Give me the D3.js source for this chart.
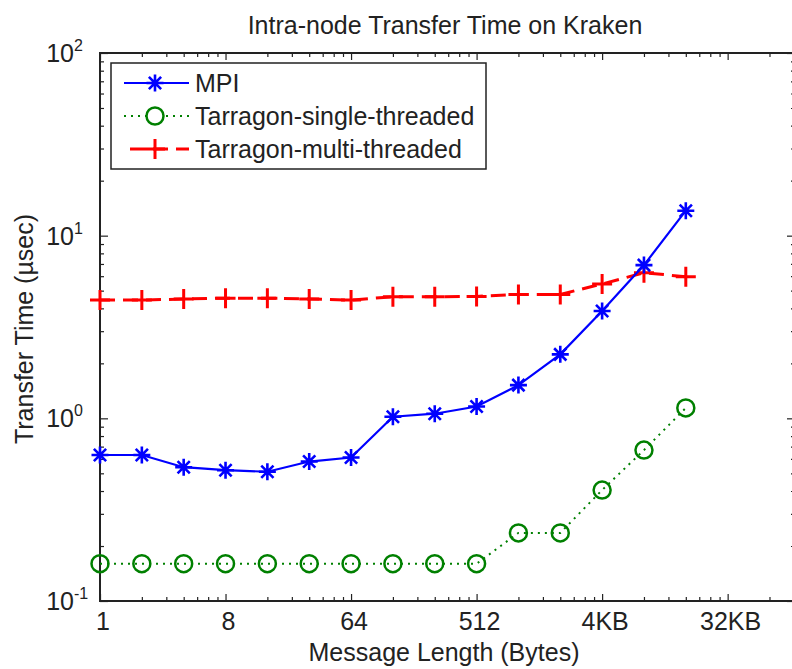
<!DOCTYPE html>
<html><head><meta charset="utf-8">
<script src="https://cdn.jsdelivr.net/npm/d3@7"></script>
<style>
html,body{margin:0;padding:0;background:#fff;}
text{font-family:"Liberation Sans",Arial,sans-serif;fill:#222;}
</style></head>
<body><svg id="c" width="792" height="669"></svg>
<script>
// ---- data ----
const sizes = [1,2,4,8,16,32,64,128,256,512,1024,2048,4096,8192,16384];
const mpi = [0.63,0.63,0.54,0.52,0.51,0.58,0.61,1.02,1.06,1.16,1.52,2.24,3.87,6.9,13.7];
const tarragonSingle = [0.16,0.16,0.16,0.16,0.16,0.16,0.16,0.16,0.16,0.16,0.236,0.236,0.405,0.67,1.14];
const tarragonMulti = [4.44,4.44,4.5,4.55,4.55,4.5,4.44,4.63,4.63,4.65,4.77,4.77,5.44,6.27,5.96];
const xTickValues = [1,8,64,512,4096,32768];
const xTickLabels = ["1","8","64","512","4KB","32KB"];
const yTickValues = [0.1,1,10,100];
const yTickExps = ["-1","0","1","2"];
const seriesNames = ["MPI","Tarragon-single-threaded","Tarragon-multi-threaded"];
const titleText = "Intra-node Transfer Time on Kraken";
const xLabelText = "Message Length (Bytes)";
const yLabelText = "Transfer Time (\u00B5sec)";

// ---- layout ----
const L=100, R=795, T=53, B=601;
const svg = d3.select("#c");
const x = d3.scaleLog().base(2).domain([1,100000]).range([L,R]);
const y = d3.scaleLog().domain([0.1,100]).range([B,T]);

const xMinor=[];
for(let n=0;n<6;n++){for(let k=2;k<=7;k++){const v=k*Math.pow(8,n); if(v<100000) xMinor.push(v);}}
const yMinor=[];
for(let e=-1;e<2;e++){for(let k=2;k<=9;k++) yMinor.push(k*Math.pow(10,e));}

function styleAxis(g){ g.select(".domain").remove(); g.selectAll("line").attr("stroke","#222").attr("stroke-width",1.2); g.selectAll("text").remove(); }
svg.append("g").attr("transform",`translate(0,${B})`).call(d3.axisBottom(x).tickValues(xTickValues).tickSize(-7)).call(styleAxis);
svg.append("g").attr("transform",`translate(0,${B})`).call(d3.axisBottom(x).tickValues(xMinor).tickSize(-4)).call(styleAxis);
svg.append("g").attr("transform",`translate(0,${T})`).call(d3.axisTop(x).tickValues(xTickValues).tickSize(-7)).call(styleAxis);
svg.append("g").attr("transform",`translate(0,${T})`).call(d3.axisTop(x).tickValues(xMinor).tickSize(-4)).call(styleAxis);
svg.append("g").attr("transform",`translate(${L},0)`).call(d3.axisLeft(y).tickValues(yTickValues).tickSize(-8)).call(styleAxis);
svg.append("g").attr("transform",`translate(${L},0)`).call(d3.axisLeft(y).tickValues(yMinor).tickSize(-4)).call(styleAxis);
svg.append("g").attr("transform",`translate(${R},0)`).call(d3.axisRight(y).tickValues(yTickValues).tickSize(-8)).call(styleAxis);
svg.append("g").attr("transform",`translate(${R},0)`).call(d3.axisRight(y).tickValues(yMinor).tickSize(-4)).call(styleAxis);

svg.append("rect").attr("x",L).attr("y",T).attr("width",R-L).attr("height",B-T)
  .attr("fill","none").attr("stroke","#222").attr("stroke-width",2);

// tick labels
svg.selectAll(".xl").data(xTickValues).enter().append("text")
  .attr("x",d=>x(d)+3).attr("y",630).attr("text-anchor","middle").attr("font-size",25)
  .text((d,i)=>xTickLabels[i]);
const yl = svg.selectAll(".yl").data(yTickValues).enter().append("text")
  .attr("x",74).attr("y",d=>y(d)+9).attr("text-anchor","end").attr("font-size",25);
yl.append("tspan").text("10");
yl.append("tspan").attr("dy",-11).attr("font-size",16).attr("x",74).attr("text-anchor","start").text((d,i)=>yTickExps[i]);

// titles
svg.append("text").attr("x",445).attr("y",34).attr("text-anchor","middle").attr("font-size",25).text(titleText);
svg.append("text").attr("x",444).attr("y",661).attr("text-anchor","middle").attr("font-size",25).text(xLabelText);
svg.append("text").attr("transform","translate(33,329) rotate(-90)").attr("text-anchor","middle").attr("font-size",25).text(yLabelText);

// ---- series ----
const line = vals => d3.line().x((d,i)=>x(sizes[i])).y(d=>y(d))(vals);
function asterisk(g,cx,cy,s,color){
  const p=`M${cx-s},${cy}L${cx+s},${cy}M${cx},${cy-s}L${cx},${cy+s}M${cx-s*0.72},${cy-s*0.72}L${cx+s*0.72},${cy+s*0.72}M${cx-s*0.72},${cy+s*0.72}L${cx+s*0.72},${cy-s*0.72}`;
  g.append("path").attr("d",p).attr("stroke",color).attr("stroke-width",2.6).attr("fill","none");
}
function plus(g,cx,cy,s,color){
  g.append("path").attr("d",`M${cx-s},${cy}L${cx+s},${cy}M${cx},${cy-s}L${cx},${cy+s}`).attr("stroke",color).attr("stroke-width",3).attr("fill","none");
}
function circ(g,cx,cy,r,color){
  g.append("circle").attr("cx",cx).attr("cy",cy).attr("r",r).attr("fill","none").attr("stroke",color).attr("stroke-width",2.5);
}
const blue="#0000ff", green="#008000", red="#ff0000";
const gS = svg.append("g");
gS.append("path").attr("d",line(tarragonSingle)).attr("fill","none").attr("stroke",green).attr("stroke-width",2).attr("stroke-dasharray","2,5");
tarragonSingle.forEach((v,i)=>circ(gS,x(sizes[i]),y(v),8.5,green));
const gM = svg.append("g");
gM.append("path").attr("d",line(tarragonMulti)).attr("fill","none").attr("stroke",red).attr("stroke-width",3).attr("stroke-dasharray","15,8");
tarragonMulti.forEach((v,i)=>plus(gM,x(sizes[i]),y(v),10,red));
const gP = svg.append("g");
gP.append("path").attr("d",line(mpi)).attr("fill","none").attr("stroke",blue).attr("stroke-width",2.2);
mpi.forEach((v,i)=>asterisk(gP,x(sizes[i]),y(v),8.5,blue));

// ---- legend ----
const lg = svg.append("g");
lg.append("rect").attr("x",111).attr("y",63).attr("width",375).attr("height",106).attr("fill","#fff").attr("stroke","#222").attr("stroke-width",1.5);
const ly=[83,116,149];
lg.append("line").attr("x1",124).attr("x2",189).attr("y1",ly[0]).attr("y2",ly[0]).attr("stroke",blue).attr("stroke-width",2.2);
asterisk(lg,155,ly[0],8.5,blue);
lg.append("line").attr("x1",124).attr("x2",189).attr("y1",ly[1]).attr("y2",ly[1]).attr("stroke",green).attr("stroke-width",2).attr("stroke-dasharray","2,5");
lg.append("circle").attr("cx",155).attr("cy",ly[1]).attr("r",9).attr("fill","#fff").attr("stroke","none");
circ(lg,155,ly[1],8.5,green);
lg.append("line").attr("x1",130).attr("x2",189).attr("y1",ly[2]).attr("y2",ly[2]).attr("stroke",red).attr("stroke-width",3).attr("stroke-dasharray","15,8");
plus(lg,155,ly[2],10,red);
lg.selectAll(".lt").data(seriesNames).enter().append("text").attr("x",195).attr("y",(d,i)=>ly[i]+9).attr("font-size",25).text(d=>d);
</script></body></html>
